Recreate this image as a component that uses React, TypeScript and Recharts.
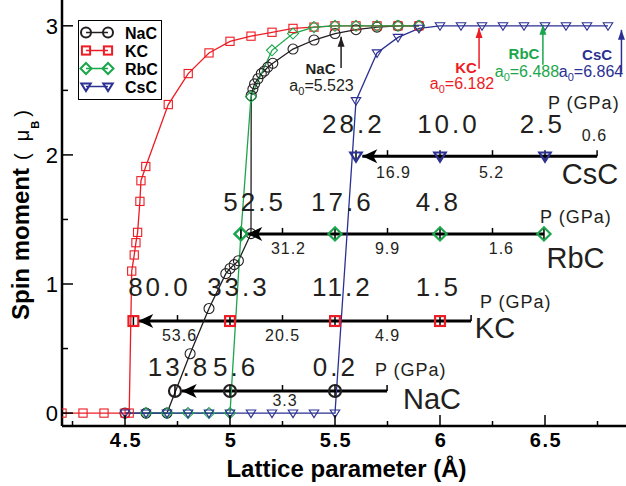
import React from 'react'
import { ComposedChart, Line, Scatter, XAxis, YAxis } from 'recharts'

type Pt = [number, number]
type Lbl = [string, number, number]

const FONT = '"Liberation Sans", Arial, Helvetica, sans-serif'

// spin moment vs lattice parameter, [a (Å), M (μB)]
const nacCurve: Pt[] = [
  [4.5, 0], [4.6, 0], [4.7, 0], [4.81, 0.46], [4.9, 0.81], [4.98, 1.08], [5.0, 1.12],
  [5.02, 1.15], [5.04, 1.18], [5.1, 1.39], [5.101, 2.46], [5.109, 2.51], [5.117, 2.55],
  [5.133, 2.59], [5.149, 2.63], [5.164, 2.65], [5.18, 2.68], [5.204, 2.71], [5.3, 2.82],
  [5.4, 2.89], [5.5, 2.94], [5.6, 2.97], [5.7, 2.99], [5.8, 3.0], [5.9, 3.0],
]
const kcCurve: Pt[] = [
  [4.2, 0], [4.3, 0], [4.4, 0], [4.5, 0], [4.52, 0], [4.532, 1.1], [4.544, 1.225],
  [4.552, 1.32], [4.56, 1.4], [4.571, 1.64], [4.576, 1.8], [4.599, 1.91], [4.706, 2.39],
  [4.801, 2.63], [4.9, 2.79], [5.0, 2.88], [5.1, 2.92], [5.2, 2.95], [5.3, 2.98],
  [5.4, 2.99], [5.5, 3.0], [5.6, 3.0], [5.7, 3.0], [5.8, 3.0], [5.9, 3.0],
]
const rbcCurve: Pt[] = [
  [4.6, 0], [4.7, 0], [4.8, 0], [4.9, 0], [5.0, 0], [5.052, 1.388], [5.1, 2.45],
  [5.2, 2.81], [5.3, 2.94], [5.4, 2.99], [5.5, 3.0], [5.6, 3.0], [5.7, 3.0], [5.8, 3.0], [5.9, 3.0],
]
const cscCurve: Pt[] = [
  [4.5, 0], [4.6, 0], [4.7, 0], [4.8, 0], [4.9, 0], [5.0, 0], [5.1, 0], [5.2, 0], [5.3, 0],
  [5.4, 0], [5.5, 0], [5.6, 2.42], [5.7, 2.79], [5.8, 2.91], [5.9, 2.98], [6.0, 3.0],
  [6.1, 3.0], [6.2, 3.0], [6.3, 3.0], [6.4, 3.0], [6.5, 3.0], [6.6, 3.0], [6.7, 3.0], [6.8, 3.0],
]

// pressure scales drawn under each curve
const barNames = ['NaC', 'KC', 'RbC', 'CsC']
const barLevel = [0.171, 0.713, 1.388, 1.99]
const barTip = [4.77, 4.563, 5.082, 5.63]
const barEnd = [5.748, 6.148, 6.495, 6.748]
const barMarks = [
  [4.738, 5.0, 5.5],
  [4.54, 5.0, 5.5, 6.0],
  [5.052, 5.5, 6.0, 6.495],
  [5.6, 6.0, 6.5],
]
const barTicks = [
  [5.25, 5.748],
  [4.75, 5.25, 5.75, 6.148],
  [5.25, 5.75, 6.25],
  [5.75, 6.25, 6.748],
]

// pressure values (GPa)
const bigLabels: Lbl[] = [
  ['13.8', 4.75, 0.287], ['5.6', 5.02, 0.287], ['0.2', 5.495, 0.287],
  ['80.0', 4.657, 0.907], ['33.3', 5.033, 0.907], ['11.2', 5.528, 0.907], ['1.5', 5.985, 0.907],
  ['52.5', 5.11, 1.566], ['17.6', 5.528, 1.566], ['4.8', 5.985, 1.566],
  ['28.2', 5.58, 2.171], ['10.0', 6.033, 2.171], ['2.5', 6.48, 2.171],
]
const smallLabels: Lbl[] = [
  ['3.3', 5.26, 0.054],
  ['53.6', 4.757, 0.558], ['20.5', 5.248, 0.558], ['4.9', 5.748, 0.558],
  ['31.2', 5.276, 1.233], ['9.9', 5.748, 1.233], ['1.6', 6.29, 1.233],
  ['16.9', 5.776, 1.822], ['5.2', 6.243, 1.822], ['0.6', 6.733, 2.109],
]
const unitLabels: Lbl[] = [
  ['P (GPa)', 5.69, 0.287], ['P (GPa)', 6.19, 0.814],
  ['P (GPa)', 6.476, 1.473], ['P (GPa)', 6.514, 2.357],
]
const nameLabels: Lbl[] = [
  ['NaC', 5.962, 0.035], ['KC', 6.262, 0.581], ['RbC', 6.645, 1.124], ['CsC', 6.714, 1.775],
]

// equilibrium lattice constants
const a0Values = ['5.523', '6.182', '6.488', '6.864']
const a0ArrowX = [5.529, 6.186, 6.49, 6.864]
const a0ArrowFrom = [2.674, 2.667, 2.698, 2.636]
const a0ArrowTo = [2.915, 2.984, 3.008, 2.969]
const a0NamePos: Pt[] = [[5.431, 2.63], [6.124, 2.638], [6.4, 2.746], [6.748, 2.735]]
const a0TextPos: Pt[] = [[5.436, 2.495], [6.105, 2.51], [6.414, 2.603], [6.719, 2.6]]

const xTicks = [4.25, 4.5, 4.75, 5, 5.25, 5.5, 5.75, 6, 6.25, 6.5, 6.75]
const yTicks = [0, 0.5, 1, 1.5, 2, 2.5, 3]

const COLORS: Record<string, string> = {
  NaC: '#231f20',
  KC: '#ed1c24',
  RbC: '#1ba64b',
  CsC: '#2b3192',
}
const MARKERS: Record<string, string> = { NaC: 'circle', KC: 'square', RbC: 'diamond', CsC: 'triangle' }

const toXY = (pts: Pt[]) => pts.map(([x, y]) => ({ x, y }))
const toLbl = (ls: Lbl[]) => ls.map(([text, x, y]) => ({ text, x, y }))

function Marker({ kind, cx, cy, color, size, sw }: any) {
  if (cx == null || cy == null) return <g />
  if (kind === 'circle') {
    return <circle cx={cx} cy={cy} r={size} fill="none" stroke={color} strokeWidth={sw} />
  }
  if (kind === 'square') {
    const s = size * 0.82
    return <rect x={cx - s} y={cy - s} width={2 * s} height={2 * s} fill="none" stroke={color} strokeWidth={sw} />
  }
  if (kind === 'diamond') {
    const s = size * 1.1
    return (
      <path d={`M${cx},${cy - s}L${cx + s},${cy}L${cx},${cy + s}L${cx - s},${cy}Z`}
        fill="none" stroke={color} strokeWidth={sw} />
    )
  }
  const s = size * 0.95
  return (
    <path d={`M${cx - s},${cy - s * 0.65}L${cx + s},${cy - s * 0.65}L${cx},${cy + s * 0.95}Z`}
      fill="none" stroke={color} strokeWidth={sw} />
  )
}

const isMajorX = (v: number) => Math.abs(v * 2 - Math.round(v * 2)) < 1e-6
const isMajorY = (v: number) => Math.abs(v - Math.round(v)) < 1e-6

function BottomTick({ x, y, payload }: any) {
  const major = isMajorX(payload.value)
  return (
    <g>
      <line x1={x} x2={x} y1={y} y2={y - (major ? 11 : 5)} stroke="#000" strokeWidth={1.5} />
      {major && (
        <text x={x + 1} y={y + 21} textAnchor="middle" fontFamily={FONT} fontWeight="bold"
          fontSize={20} letterSpacing={1.5} fill="#000">{String(payload.value)}</text>
      )}
    </g>
  )
}

function TopTick({ x, y, payload }: any) {
  const major = isMajorX(payload.value)
  return <line x1={x} x2={x} y1={y} y2={y + (major ? 10 : 5)} stroke="#000" strokeWidth={1.5} />
}

function LeftTick({ x, y, payload }: any) {
  const major = isMajorY(payload.value)
  return (
    <g>
      <line x1={x} x2={x + (major ? 11 : 6)} y1={y} y2={y} stroke="#000" strokeWidth={1.5} />
      {major && (
        <text x={x - 4} y={y + 8} textAnchor="end" fontFamily={FONT} fontSize={22} fill="#000">
          {String(payload.value)}
        </text>
      )}
    </g>
  )
}

function RightTick({ x, y, payload }: any) {
  const major = isMajorY(payload.value)
  return <line x1={x} x2={x - (major ? 10 : 5)} y1={y} y2={y} stroke="#000" strokeWidth={1.5} />
}

function XTitle({ viewBox }: any) {
  const cx = viewBox ? viewBox.x + viewBox.width / 2 : 346
  const top = viewBox ? viewBox.y : 426
  return (
    <text x={cx + 1} y={top + 51} textAnchor="middle" fontFamily={FONT} fontWeight="bold" fontSize={24} fill="#000">
      Lattice parameter (Å)
    </text>
  )
}

function YTitle() {
  return (
    <text transform="translate(29,320) rotate(-90)" fontFamily={FONT} fill="#000">
      <tspan fontSize={24} fontWeight="bold">Spin moment</tspan>
      <tspan fontSize={20} dx={8}>(</tspan>
      <tspan fontSize={20} dx={12}>μ</tspan>
      <tspan fontSize={11} fontWeight="bold" dx={1} dy={10}>B</tspan>
      <tspan fontSize={20} dx={4} dy={-10}>)</tspan>
    </text>
  )
}

function LegendBox() {
  return (
    <svg width={626} height={486} style={{ position: 'absolute', left: 0, top: 0, pointerEvents: 'none' }}>
      <rect x={78.5} y={20.5} width={83} height={79} fill="#fff" stroke="#000" strokeWidth={1} />
      {barNames.map((name, i) => {
        const cy = 32.5 + i * 18
        const color = COLORS[name]
        return (
          <g key={name}>
            <line x1={86} x2={108} y1={cy} y2={cy} stroke={color} strokeWidth={1.5} />
            <Marker kind={MARKERS[name]} cx={86} cy={cy} color={color} size={5} sw={2} />
            <Marker kind={MARKERS[name]} cx={108} cy={cy} color={color} size={5} sw={2} />
            <text x={125} y={cy + 6} fontFamily={FONT} fontWeight="bold" fontSize={16} fill="#000">{name}</text>
          </g>
        )
      })}
    </svg>
  )
}

const curves: [string, Pt[]][] = [
  ['NaC', nacCurve], ['KC', kcCurve], ['RbC', rbcCurve], ['CsC', cscCurve],
]

export default function App() {
  const axisLine = { stroke: '#000', strokeWidth: 2.5 }
  return (
    <div style={{ position: 'absolute', left: 0, top: 0, width: 626, height: 486, overflow: 'hidden', background: '#fff' }}>
      <ComposedChart width={629} height={487} margin={{ top: 0, right: 0, bottom: 0, left: 0 }}>
        <XAxis xAxisId={0} type="number" dataKey="x" domain={[4.2, 6.9]} allowDataOverflow
          ticks={xTicks} interval={0} tickSize={0} tickMargin={0} tickLine={false}
          tick={<BottomTick />} axisLine={axisLine} height={61} label={<XTitle />} />
        <XAxis xAxisId="top" orientation="top" type="number" dataKey="x" domain={[4.2, 6.9]} allowDataOverflow
          ticks={xTicks} interval={0} tickSize={0} tickMargin={0} tickLine={false}
          tick={<TopTick />} axisLine={axisLine} height={0} />
        <YAxis yAxisId={0} type="number" dataKey="y" domain={[-0.1, 3.2]} allowDataOverflow
          ticks={yTicks} interval={0} tickSize={0} tickMargin={0} tickLine={false}
          tick={<LeftTick />} axisLine={axisLine} width={62} label={<YTitle />} />
        <YAxis yAxisId="right" orientation="right" type="number" dataKey="y" domain={[-0.1, 3.2]} allowDataOverflow
          ticks={yTicks} interval={0} tickSize={0} tickMargin={0} tickLine={false}
          tick={<RightTick />} axisLine={axisLine} width={0} />

        {/* pressure scale bars */}
        {barNames.map((name, i) => (
          <Line key={`bar-${name}`} data={[{ x: barTip[i], y: barLevel[i] }, { x: barEnd[i], y: barLevel[i] }]}
            dataKey="y" type="linear" stroke="#000" strokeWidth={3} dot={false} activeDot={false}
            isAnimationActive={false} />
        ))}

        {/* a0 arrows */}
        {barNames.map((name, i) => (
          <Line key={`a0-${name}`} data={[{ x: a0ArrowX[i], y: a0ArrowFrom[i] }, { x: a0ArrowX[i], y: a0ArrowTo[i] }]}
            dataKey="y" type="linear" stroke={COLORS[name]} strokeWidth={1.5} dot={false} activeDot={false}
            isAnimationActive={false} />
        ))}

        {/* spin moment curves */}
        {curves.map(([name, pts]) => (
          <Line key={name} data={toXY(pts)} dataKey="y" type="linear" stroke={COLORS[name]} strokeWidth={1.3}
            activeDot={false} isAnimationActive={false}
            dot={(p: any) => (
              <g key={`${name}-${p.index}`}>
                <Marker kind={MARKERS[name]} cx={p.cx} cy={p.cy} color={COLORS[name]} size={5} sw={1.1} />
              </g>
            )} />
        ))}

        {/* bar ticks */}
        {barNames.map((name, i) => (
          <Scatter key={`tick-${name}`} data={barTicks[i].map(x => ({ x, y: barLevel[i] }))} dataKey="y"
            isAnimationActive={false}
            shape={(p: any) => <line x1={p.cx} x2={p.cx} y1={p.cy} y2={p.cy - 6} stroke="#000" strokeWidth={1.5} />} />
        ))}

        {/* bar markers */}
        {barNames.map((name, i) => (
          <Scatter key={`mark-${name}`} data={barMarks[i].map(x => ({ x, y: barLevel[i] }))} dataKey="y"
            isAnimationActive={false}
            shape={(p: any) => (
              <g>
                <line x1={p.cx} x2={p.cx} y1={p.cy - 6} y2={p.cy + 5} stroke="#000" strokeWidth={1.5} />
                <Marker kind={MARKERS[name]} cx={p.cx} cy={p.cy} color={COLORS[name]} size={6} sw={2.2} />
              </g>
            )} />
        ))}

        {/* arrow heads on bars */}
        <Scatter data={barNames.map((_, i) => ({ x: barTip[i], y: barLevel[i] }))} dataKey="y"
          isAnimationActive={false}
          shape={(p: any) => (
            <path d={`M${p.cx},${p.cy}L${p.cx + 15},${p.cy - 7}L${p.cx + 11},${p.cy}L${p.cx + 15},${p.cy + 7}Z`} fill="#000" />
          )} />

        {/* arrow heads on a0 arrows */}
        <Scatter data={barNames.map((name, i) => ({ x: a0ArrowX[i], y: a0ArrowTo[i], name }))} dataKey="y"
          isAnimationActive={false}
          shape={(p: any) => (
            <path d={`M${p.cx},${p.cy}L${p.cx - 3.5},${p.cy + 10}L${p.cx + 3.5},${p.cy + 10}Z`} fill={COLORS[p.payload.name]} />
          )} />

        {/* text */}
        <Scatter data={toLbl(bigLabels)} dataKey="y" isAnimationActive={false}
          shape={(p: any) => (
            <text x={p.cx + 1.5} y={p.cy} textAnchor="middle" fontFamily={FONT} fontSize={26} letterSpacing={3} fill="#231f20">
              {p.payload.text}
            </text>
          )} />
        <Scatter data={toLbl(smallLabels)} dataKey="y" isAnimationActive={false}
          shape={(p: any) => (
            <text x={p.cx + 0.5} y={p.cy} textAnchor="middle" fontFamily={FONT} fontSize={16} letterSpacing={1} fill="#231f20">
              {p.payload.text}
            </text>
          )} />
        <Scatter data={toLbl(unitLabels)} dataKey="y" isAnimationActive={false}
          shape={(p: any) => (
            <text x={p.cx} y={p.cy} textAnchor="start" fontFamily={FONT} fontSize={18} letterSpacing={1} fill="#231f20">
              {p.payload.text}
            </text>
          )} />
        <Scatter data={toLbl(nameLabels)} dataKey="y" isAnimationActive={false}
          shape={(p: any) => (
            <text x={p.cx} y={p.cy} textAnchor="middle" fontFamily={FONT} fontSize={29} fill="#231f20">
              {p.payload.text}
            </text>
          )} />
        <Scatter data={barNames.map((name, i) => ({ x: a0NamePos[i][0], y: a0NamePos[i][1], name }))} dataKey="y"
          isAnimationActive={false}
          shape={(p: any) => (
            <text x={p.cx} y={p.cy} textAnchor="middle" fontFamily={FONT} fontWeight="bold" fontSize={15}
              fill={COLORS[p.payload.name]}>{p.payload.name}</text>
          )} />
        <Scatter data={barNames.map((name, i) => ({ x: a0TextPos[i][0], y: a0TextPos[i][1], name, v: a0Values[i] }))}
          dataKey="y" isAnimationActive={false}
          shape={(p: any) => (
            <text x={p.cx} y={p.cy} textAnchor="middle" fontFamily={FONT} fontSize={16} fill={COLORS[p.payload.name]}>
              a<tspan fontSize={11} dy={4}>0</tspan><tspan dy={-4}>={p.payload.v}</tspan>
            </text>
          )} />
      </ComposedChart>
      <LegendBox />
    </div>
  )
}
